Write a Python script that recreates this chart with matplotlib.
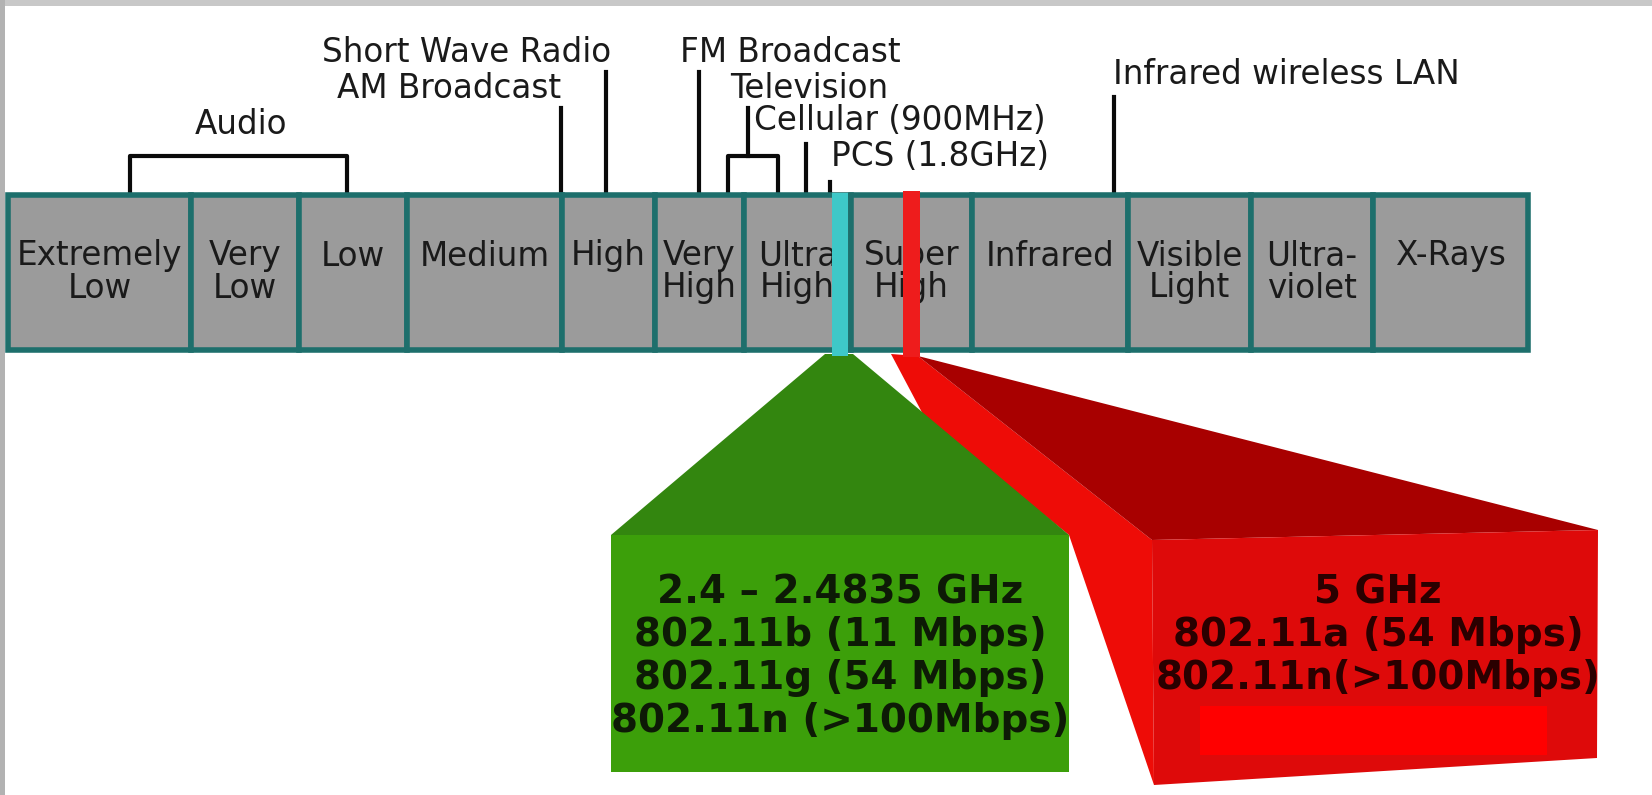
import matplotlib
matplotlib.use("Agg")
import matplotlib.pyplot as plt
from matplotlib.patches import Polygon, Rectangle

# frequency bands along the spectrum strip
band_names = ["Extremely\nLow", "Very\nLow", "Low", "Medium", "High", "Very\nHigh",
              "Ultra\nHigh", "Super\nHigh", "Infrared", "Visible\nLight", "Ultra-\nviolet", "X-Rays"]

# services marked above the strip
service_names = ["Short Wave Radio", "AM Broadcast", "Audio", "FM Broadcast", "Television",
                 "Cellular (900MHz)", "PCS (1.8GHz)", "Infrared wireless LAN"]

# wireless LAN bands
green_lines = ["2.4 \u2013 2.4835 GHz", "802.11b (11 Mbps)", "802.11g (54 Mbps)", "802.11n (>100Mbps)"]
red_lines = ["5 GHz", "802.11a (54 Mbps)", "802.11n(>100Mbps)"]

# layout in pixel coordinates
band_edges = [8, 191, 299, 407, 562, 655, 744, 851, 972, 1128, 1251, 1373, 1528]
strip_top, strip_bot = 195, 350
label_pos = [(322, 52), (337, 88), (195, 124), (680, 52), (730, 88), (754, 121), (831, 157), (1113, 75)]

fig = plt.figure(figsize=(16.52, 7.95), dpi=100)
ax = fig.add_axes([0, 0, 1, 1])
ax.set_xlim(0, 1652)
ax.set_ylim(795, 0)
ax.axis('off')

# frame of the slide
ax.add_patch(Rectangle((0, 0), 1652, 6, color='#c8c8c8', lw=0))
ax.add_patch(Rectangle((0, 0), 5, 795, color='#b2b2b2', lw=0))

# spectrum strip
lefts = band_edges[:-1]
widths = [b - a for a, b in zip(band_edges[:-1], band_edges[1:])]
ax.bar(lefts, strip_bot - strip_top, width=widths, bottom=strip_top, align='edge',
       color='#9b9b9b', edgecolor='#1d6f6c', linewidth=4, zorder=2)
for name, a, w in zip(band_names, lefts, widths):
    for i, line in enumerate(name.split('\n')):
        ax.text(a + w / 2, 256 + 32 * i, line, ha='center', va='center',
                fontsize=23.5, color='#1a1a1a', zorder=3)

# service markers
lw = 3
black = '#0a0a0a'
# Audio bracket
ax.plot([130, 130, 347, 347], [strip_top, 156, 156, strip_top], color=black, lw=lw, zorder=1)
# single lines
for x, top in [(561, 108), (606, 72), (699, 72), (806, 144), (830, 182), (1114, 97)]:
    ax.plot([x, x], [strip_top, top], color=black, lw=lw, zorder=1)
# Television bracket
ax.plot([728, 728, 778, 778], [strip_top, 156, 156, strip_top], color=black, lw=lw, zorder=1)
ax.plot([748, 748], [156, 108], color=black, lw=lw, zorder=1)

for name, (x, y) in zip(service_names, label_pos):
    ax.text(x, y, name, ha='left', va='center', fontsize=23.5, color='#1a1a1a')

# 2.4 GHz and 5 GHz markers on the strip
ax.add_patch(Rectangle((832, 193), 16, 163, color='#3ec8c8', lw=0, zorder=4))
ax.add_patch(Rectangle((903, 191), 17, 166, color='#ee1c1c', lw=0, zorder=4))

# red zoom-out (3D box), partly hidden behind the green one
ax.add_patch(Polygon([(891, 354), (918, 356), (1152, 540), (1154, 785), (1069, 535), (926, 420)],
                     color='#ee0c07', lw=0))
ax.add_patch(Polygon([(918, 356), (1598, 530), (1152, 540)], color='#a80000', lw=0))
ax.add_patch(Polygon([(1152, 540), (1598, 530), (1597, 758), (1154, 785)], color='#de0a0a', lw=0))
ax.add_patch(Rectangle((1200, 706), 347, 49, color='#ff0000', lw=0))
for i, line in enumerate(red_lines):
    ax.text(1378, 592 + 43 * i, line, ha='center', va='center', fontsize=28,
            fontweight='bold', color='#2a0000')

# green zoom-out
ax.add_patch(Polygon([(825, 354), (853, 354), (1069, 535), (611, 535)], color='#33860f', lw=0))
ax.add_patch(Rectangle((611, 535), 458, 237, color='#3c9f0a', lw=0))
for i, line in enumerate(green_lines):
    ax.text(840, 592 + 43 * i, line, ha='center', va='center', fontsize=28,
            fontweight='bold', color='#0d1a06')

fig.savefig('out.png', dpi=100)
